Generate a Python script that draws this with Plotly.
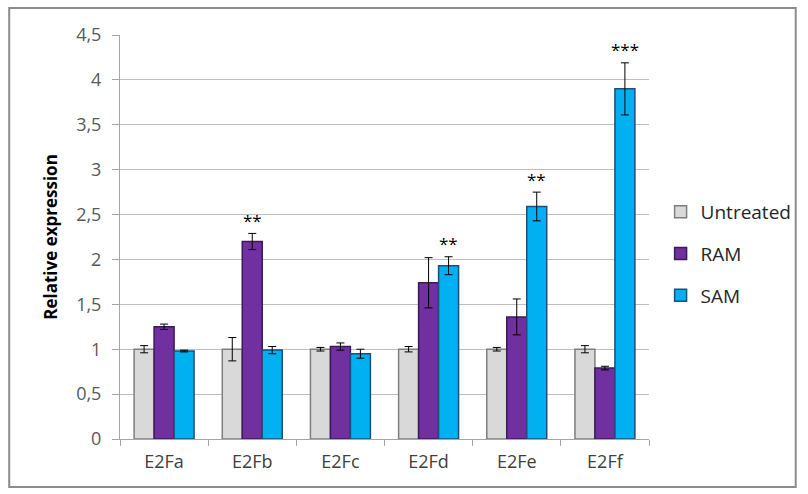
import plotly.graph_objects as go

categories = ["E2Fa", "E2Fb", "E2Fc", "E2Fd", "E2Fe", "E2Ff"]
series_names = ["Untreated", "RAM", "SAM"]
untreated = [1.00, 1.00, 1.00, 1.00, 1.00, 1.00]
untreated_err = [0.04, 0.13, 0.02, 0.03, 0.02, 0.04]
ram = [1.25, 2.20, 1.03, 1.74, 1.36, 0.79]
ram_err = [0.03, 0.09, 0.04, 0.28, 0.20, 0.02]
sam = [0.98, 0.99, 0.95, 1.93, 2.59, 3.90]
sam_err = [0.01, 0.04, 0.05, 0.10, 0.16, 0.29]
y_ticks = [0, 0.5, 1, 1.5, 2, 2.5, 3, 3.5, 4, 4.5]
y_tick_labels = ["0", "0,5", "1", "1,5", "2", "2,5", "3", "3,5", "4", "4,5"]
# significance marks: (category, series index, label)
significance = [("E2Fb", 1, "**"), ("E2Fd", 2, "**"), ("E2Fe", 2, "**"), ("E2Ff", 2, "***")]

values = [untreated, ram, sam]
errors = [untreated_err, ram_err, sam_err]
fills = ["#d9d9d9", "#7030a0", "#00b0f0"]
lines = ["#7f7f7f", "#3b1a5a", "#1f4e79"]

FONT = "'Open Sans', 'Liberation Sans', sans-serif"
W, H = 808, 494
ML, MR, MT, MB = 120, 158, 35, 55
pw, ph = W - ML - MR, H - MT - MB

fig = go.Figure()
for i, name in enumerate(series_names):
    fig.add_trace(go.Bar(
        name=name, x=categories, y=values[i],
        marker=dict(color=fills[i], line=dict(color=lines[i], width=1.5)),
        error_y=dict(type="data", array=errors[i], color="#000000", thickness=1, width=4),
        legendgroup=name,
    ))

bar_w = pw / len(categories) * (1 - 0.32) / 3
for cat, si, lab in significance:
    idx = categories.index(cat)
    top = values[si][idx] + errors[si][idx]
    fig.add_annotation(x=cat, y=top, xref="x", yref="y", text=lab, showarrow=False,
                       xshift=(si - 1) * bar_w, yshift=13,
                       font=dict(family=FONT, size=17, color="#000000"))

# outer border
fig.add_shape(type="rect", xref="paper", yref="paper",
              x0=(9 - ML) / pw, x1=(797 - ML) / pw,
              y0=(H - MB - 487) / ph, y1=(H - MB - 8) / ph,
              line=dict(color="#8c8c8c", width=2), layer="above")

fig.update_layout(
    width=W, height=H,
    margin=dict(l=ML, r=MR, t=MT, b=MB),
    paper_bgcolor="white", plot_bgcolor="white",
    barmode="group", bargap=0.32, bargroupgap=0,
    font=dict(family=FONT, size=18, color="#404040"),
    legend=dict(x=1.02, y=0.458, xanchor="left", yanchor="middle",
                bgcolor="rgba(0,0,0,0)",
                font=dict(family=FONT, size=19, color="#262626"),
                tracegroupgap=14, itemwidth=30),
    showlegend=True,
)
fig.update_xaxes(
    showline=True, linecolor="#a6a6a6", linewidth=1,
    ticks="outside", tickson="boundaries", ticklen=6, tickcolor="#a6a6a6",
    ticklabelstandoff=6,
    tickfont=dict(family=FONT, size=18, color="#404040"),
    showgrid=False,
)
fig.update_yaxes(
    range=[0, 4.5], tickvals=y_ticks, ticktext=y_tick_labels,
    showline=True, linecolor="#a6a6a6", linewidth=1,
    ticks="outside", ticklen=7, tickcolor="#a6a6a6",
    ticklabelstandoff=7,
    showgrid=True, gridcolor="#bfbfbf", gridwidth=1,
    zeroline=False,
    tickfont=dict(family=FONT, size=18, color="#595959"),
    title=dict(text="<b>Relative expression</b>", font=dict(family=FONT, size=17, color="#000000"), standoff=14),
)

fig.write_html("out.html", config={"displayModeBar": False},
               post_script="document.body.style.margin='0';")
